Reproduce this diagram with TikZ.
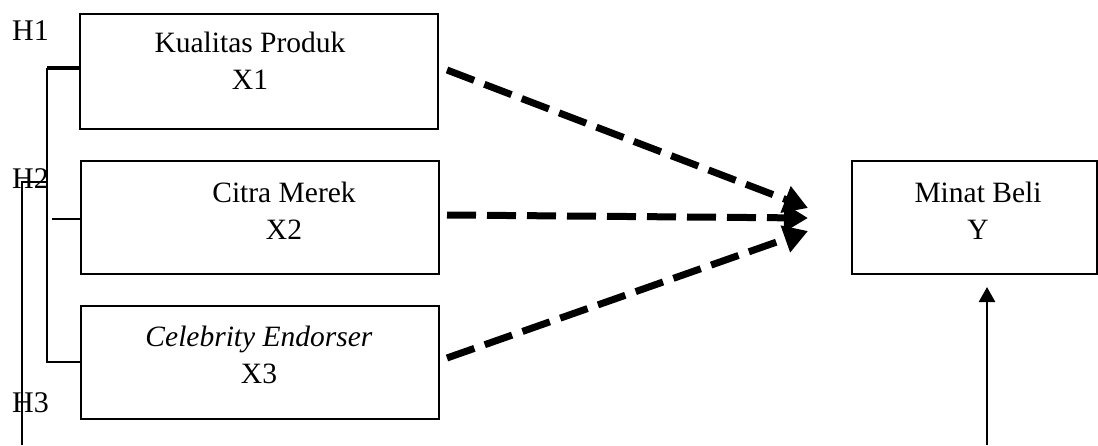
\documentclass[tikz,border=0pt]{standalone}
\usepackage{fontspec}
\setmainfont{Liberation Serif}
\usetikzlibrary{arrows.meta}
\begin{document}
\begin{tikzpicture}[x=1pt,y=-1pt,
  box/.style={draw,line width=2pt,rectangle,inner sep=0pt,anchor=north west},
  lbl/.style={align=center,font=\fontsize{29.5}{37}\selectfont,inner sep=0pt},
  hlab/.style={font=\fontsize{30}{36}\selectfont,inner sep=0pt,anchor=base west},
  brk/.style={line width=1.5pt},
  dasharrow/.style={line width=7pt,dash pattern=on 29pt off 11pt,-{Triangle[length=24pt,width=27pt]}},
  solidarrow/.style={line width=2.5pt,-{Triangle[length=15pt,width=16pt]}},
]
\useasboundingbox (0,0) rectangle (1098,445);
% boxes
\node[box,minimum width=358pt,minimum height=115pt] (b1) at (79,13) {};
\node[box,minimum width=358pt,minimum height=113pt] (b2) at (80,160) {};
\node[box,minimum width=358pt,minimum height=113pt] (b3) at (80,305) {};
\node[box,minimum width=245pt,minimum height=113pt] (b4) at (851,160) {};
% texts
\node[lbl] (t1) at (250,61) {Kualitas Produk\\X1};
\node[lbl] (t2) at (284,211) {Citra Merek\\X2};
\node[lbl] (t3) at (259,355) {\textit{Celebrity Endorser}\\X3};
\node[lbl] (t4) at (978,211) {Minat Beli\\Y};
% H labels
\node[hlab] (h1) at (12,40) {H1};
\node[hlab] (h2) at (12,188) {H2};
\node[hlab] (h3) at (12,412) {H3};
% bracket
\coordinate (k1) at (47,68);
\coordinate (k3) at (47,362);
\coordinate (k2a) at (52,219);
\coordinate (k0) at (47,182);
\coordinate (kb) at (22,445);
\draw[line width=4pt] (k1) -- (k1 -| b1.west);
\draw[brk] (k1) -- (k3) -- (k3 -| b3.west);
\draw[brk] (k2a) -- (k2a -| b2.west);
\draw[brk] (k0) -- (k0 -| kb) -- (kb);
% dashed arrows
\coordinate (s1) at (447,70);
\coordinate (e1) at (808,208);
\coordinate (s2) at (447,215);
\coordinate (e2) at (808,218);
\coordinate (s3) at (447,358);
\coordinate (e3) at (808,231);
\draw[dasharrow] (s1) -- (e1);
\draw[dasharrow] (s2) -- (e2);
\draw[dasharrow] (s3) -- (e3);
% vertical arrow
\coordinate (vb) at (987,445);
\draw[solidarrow] (vb) -- ([yshift=-12pt]b4.south -| vb);
\end{tikzpicture}
\end{document}
